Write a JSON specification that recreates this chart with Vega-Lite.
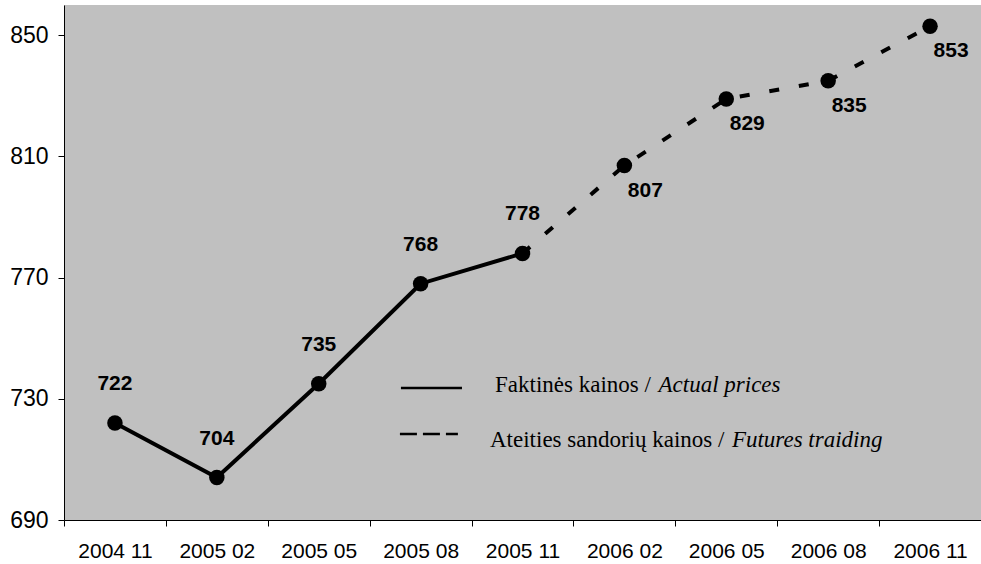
{
  "$schema": "https://vega.github.io/schema/vega-lite/v6.json",
  "width": 917,
  "height": 515,
  "autosize": {"type": "none"},
  "padding": {"left": 64, "top": 5, "right": 0, "bottom": 44},
  "background": "white",
  "config": {
    "view": {"fill": "#C0C0C0", "stroke": null},
    "axis": {
      "domainColor": "#000000",
      "domainWidth": 1,
      "tickColor": "#000000",
      "tickWidth": 1,
      "tickSize": 6,
      "grid": false,
      "labelFont": "Liberation Sans",
      "labelColor": "#000000",
      "title": null
    }
  },
  "datasets": {
    "prices": [
      {"period": "2004 11", "value": 722, "series": "actual"},
      {"period": "2005 02", "value": 704, "series": "actual"},
      {"period": "2005 05", "value": 735, "series": "actual"},
      {"period": "2005 08", "value": 768, "series": "actual"},
      {"period": "2005 11", "value": 778, "series": "actual"},
      {"period": "2006 02", "value": 807, "series": "futures"},
      {"period": "2006 05", "value": 829, "series": "futures"},
      {"period": "2006 08", "value": 835, "series": "futures"},
      {"period": "2006 11", "value": 853, "series": "futures"}
    ],
    "legend": [
      {"series": "actual", "x0": 2.807, "x1": 3.406, "ly": 733.6, "tx": 3.73, "ty": 734.6, "label": "Faktinės kainos /", "itx": 5.335, "italic": "Actual prices"},
      {"series": "futures", "x0": 2.797, "x1": 3.366, "ly": 718.4, "tx": 3.681, "ty": 716.4, "label": "Ateities sandorių kainos /", "itx": 6.055, "italic": "Futures traiding"}
    ]
  },
  "resolve": {"scale": {"x": "independent"}},
  "layer": [
    {
      "data": {"name": "prices"},
      "encoding": {
        "x": {
          "field": "period", "type": "ordinal", "sort": null,
          "scale": {"type": "band", "paddingInner": 0, "paddingOuter": 0},
          "axis": {"tickBand": "extent", "labelAngle": 0, "labelFontSize": 21, "labelPadding": 14, "domain": true}
        },
        "y": {
          "field": "value", "type": "quantitative",
          "scale": {"domain": [690, 860], "nice": false, "zero": false},
          "axis": {"values": [690, 730, 770, 810, 850], "labelFontSize": 23, "labelPadding": 10}
        }
      },
      "layer": [
        {
          "transform": [{"filter": "datum.series == 'actual'"}],
          "mark": {"type": "line", "color": "#000000", "strokeWidth": 4}
        },
        {
          "transform": [{"filter": "datum.series == 'futures' || datum.period == '2005 11'"}],
          "mark": {"type": "line", "color": "#000000", "strokeWidth": 4, "strokeDash": [10, 20]}
        },
        {
          "mark": {"type": "circle", "color": "#000000", "opacity": 1, "size": 240}
        },
        {
          "transform": [{"filter": "datum.series == 'actual'"}],
          "mark": {"type": "text", "font": "Liberation Sans", "fontSize": 21, "fontWeight": "bold", "color": "#000000", "dy": -39, "baseline": "middle", "align": "center"},
          "encoding": {"text": {"field": "value", "type": "quantitative"}}
        },
        {
          "transform": [{"filter": "datum.series == 'futures'"}],
          "mark": {"type": "text", "font": "Liberation Sans", "fontSize": 21, "fontWeight": "bold", "color": "#000000", "dx": 21, "dy": 25, "baseline": "middle", "align": "center"},
          "encoding": {"text": {"field": "value", "type": "quantitative"}}
        }
      ]
    },
    {
      "data": {"name": "legend"},
      "encoding": {
        "y": {"field": "ly", "type": "quantitative"}
      },
      "layer": [
        {
          "transform": [{"filter": "datum.series == 'actual'"}],
          "mark": {"type": "rule", "color": "#000000", "strokeWidth": 2.5},
          "encoding": {
            "x": {"field": "x0", "type": "quantitative", "scale": {"domain": [-0.5, 8.5], "nice": false, "zero": false}, "axis": null},
            "x2": {"field": "x1"}
          }
        },
        {
          "transform": [{"filter": "datum.series == 'futures'"}],
          "mark": {"type": "rule", "color": "#000000", "strokeWidth": 2.5, "strokeDash": [17, 6]},
          "encoding": {
            "x": {"field": "x0", "type": "quantitative", "scale": {"domain": [-0.5, 8.5], "nice": false, "zero": false}, "axis": null},
            "x2": {"field": "x1"}
          }
        },
        {
          "mark": {"type": "text", "font": "Liberation Serif", "fontSize": 23, "color": "#000000", "align": "left", "baseline": "middle"},
          "encoding": {
            "x": {"field": "tx", "type": "quantitative", "scale": {"domain": [-0.5, 8.5], "nice": false, "zero": false}, "axis": null},
            "y": {"field": "ty", "type": "quantitative"},
            "text": {"field": "label"}
          }
        },
        {
          "mark": {"type": "text", "font": "Liberation Serif", "fontSize": 23, "fontStyle": "italic", "color": "#000000", "align": "left", "baseline": "middle"},
          "encoding": {
            "x": {"field": "itx", "type": "quantitative", "scale": {"domain": [-0.5, 8.5], "nice": false, "zero": false}, "axis": null},
            "y": {"field": "ty", "type": "quantitative"},
            "text": {"field": "italic"}
          }
        }
      ]
    }
  ]
}
